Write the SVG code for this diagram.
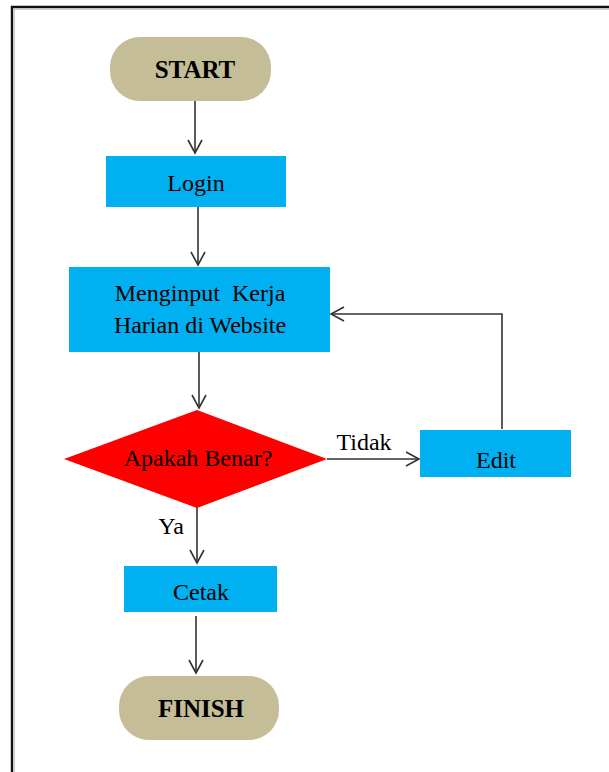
<svg xmlns="http://www.w3.org/2000/svg" width="609" height="772" viewBox="0 0 609 772">
<defs>
<style>
.term{fill:#C4BD97;}
.proc{fill:#00B0F0;}
.dec{fill:#FF0000;}
.t{font-family:"Liberation Serif","Times New Roman",serif;font-size:24px;fill:#000;text-anchor:middle;white-space:pre;}
.b{font-weight:bold;font-size:25px;}
.c{fill:none;stroke:#333;stroke-width:1.6;}
</style>
<marker id="ah" markerUnits="userSpaceOnUse" markerWidth="18" markerHeight="18" refX="14" refY="8" orient="auto" viewBox="0 0 18 16">
<path d="M1,1 L14,8 L1,15" fill="none" stroke="#333" stroke-width="1.6"/>
</marker>
</defs>
<rect x="0" y="0" width="609" height="772" fill="#fff"/>
<path d="M12,772 L12,7 L609,7" fill="none" stroke="#111" stroke-width="2.4"/>
<path d="M14.5,772 L14.5,9.5 L609,9.5" fill="none" stroke="#ccc" stroke-width="1"/>
<g id="connectors">
<line class="c" x1="195" y1="101" x2="195" y2="153" marker-end="url(#ah)"/>
<line class="c" x1="198" y1="207" x2="198" y2="265" marker-end="url(#ah)"/>
<line class="c" x1="199" y1="352" x2="199" y2="408" marker-end="url(#ah)"/>
<line class="c" x1="327" y1="459" x2="419" y2="459" marker-end="url(#ah)"/>
<polyline class="c" points="502,429 502,314 331,314" marker-end="url(#ah)"/>
<line class="c" x1="197" y1="507" x2="197" y2="563" marker-end="url(#ah)"/>
<line class="c" x1="196" y1="616" x2="196" y2="673" marker-end="url(#ah)"/>
<text class="t" x="364" y="450">Tidak</text>
<text class="t" x="171" y="534">Ya</text>
</g>
<g id="start">
<rect class="term" x="110" y="37" width="161" height="64" rx="30" ry="30"/>
<text class="t b" x="195" y="78">START</text>
</g>
<g id="login">
<rect class="proc" x="106" y="156" width="180" height="51"/>
<text class="t" x="196" y="191">Login</text>
</g>
<g id="menginput">
<rect class="proc" x="69" y="267" width="261" height="85"/>
<text class="t" x="200" y="301">Menginput  Kerja</text>
<text class="t" x="200" y="333">Harian di Website</text>
</g>
<g id="apakah">
<polygon class="dec" points="64,459 197,410 327,459 197,508"/>
<text class="t" x="198" y="466">Apakah Benar?</text>
</g>
<g id="edit">
<rect class="proc" x="420" y="430" width="151" height="47"/>
<text class="t" x="496" y="468">Edit</text>
</g>
<g id="cetak">
<rect class="proc" x="124" y="566" width="153" height="46"/>
<text class="t" x="201" y="600">Cetak</text>
</g>
<g id="finish">
<rect class="term" x="119" y="676" width="160" height="64" rx="30" ry="30"/>
<text class="t b" x="201" y="717">FINISH</text>
</g>
</svg>
